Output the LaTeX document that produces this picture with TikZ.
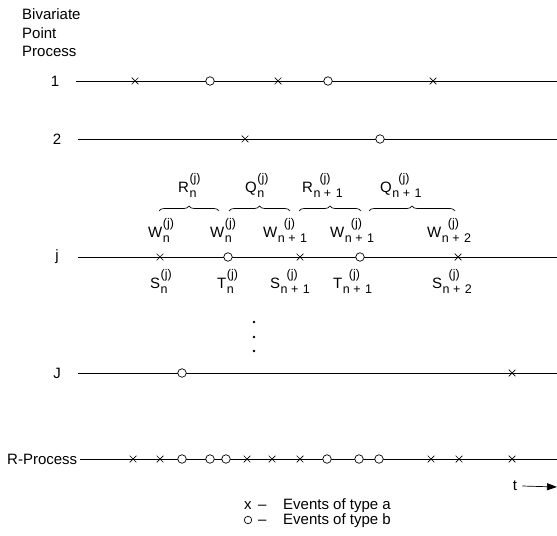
\documentclass[tikz,border=0pt]{standalone}
\usepackage{fontspec}
\setmainfont{Liberation Sans}
\usetikzlibrary{shapes.misc,decorations.pathreplacing,arrows.meta}
\newcommand\scr{\fontsize{12.5bp}{14bp}\selectfont}
% #1 letter, #2 subscript, #3 shift of the superscript
\newcommand\lbl[3]{#1\hspace{0.5bp}\rlap{\hspace{#3}\raisebox{10bp}{\scr(j)}}\raisebox{-5bp}{\scr #2}}
\newcommand\nplus[1]{n\hspace{3.5bp}+\hspace{4.5bp}#1}
\begin{document}
\begin{tikzpicture}[x=1bp,y=-1bp,
  font=\fontsize{15bp}{18bp}\selectfont,
  proc/.style={line width=0.7bp},
  evA/.style={cross out,draw,minimum size=6bp,inner sep=0pt,line width=0.7bp},
  evB/.style={circle,draw,fill=white,minimum size=8.5bp,inner sep=0pt,line width=0.7bp},
  lab/.style={anchor=base west,inner sep=0pt},
  plab/.style={inner sep=0pt},
  brc/.style={decorate,decoration={brace,amplitude=5bp},line width=0.7bp},
  dotm/.style={circle,fill,minimum size=2.6bp,inner sep=0pt}]
\useasboundingbox (0,0) rectangle (557,536);

% heading
\node[lab] (h1) at (22,20) {Bivariate};
\node[lab] (h2) at (22,38.5) {Point};
\node[lab] (h3) at (22,57) {Process};

% process labels and lines
\node[plab] (l1) at (55,81) {1};
\node[plab] (l2) at (57,139) {2};
\node[plab] (lj) at (57,257) {j};
\node[plab] (lJ) at (57,373) {J};
\node[lab] (lR) at (7,464) {R-Process};

\coordinate (s1) at (76,81);   \coordinate (e1) at (557,81);
\coordinate (s2) at (78,139);  \coordinate (e2) at (557,139);
\coordinate (sj) at (78,257);  \coordinate (ej) at (557,257);
\coordinate (sJ) at (78,373);  \coordinate (eJ) at (557,373);
\coordinate (sR) at (80,459);  \coordinate (eR) at (557,459);
\draw[proc] (s1) -- (e1);
\draw[proc] (s2) -- (e2);
\draw[proc] (sj) -- (ej);
\draw[proc] (sJ) -- (eJ);
\draw[proc] (sR) -- (eR);

% events
\foreach \x/\t [count=\i] in {135/evA,210/evB,278/evA,328/evB,433/evA}
  \node[\t] (m1-\i) at (\x,81) {};
\foreach \x/\t [count=\i] in {245/evA,380/evB}
  \node[\t] (m2-\i) at (\x,139) {};
\foreach \x/\t [count=\i] in {160/evA,228/evB,300/evA,360/evB,458/evA}
  \node[\t] (mj-\i) at (\x,257) {};
\foreach \x/\t [count=\i] in {182/evB,512/evA}
  \node[\t] (mJ-\i) at (\x,373) {};
\foreach \x/\t [count=\i] in {133/evA,160/evA,182/evB,210/evB,226/evB,247/evA,272/evA,300/evA,327/evB,359/evB,379/evB,431/evA,459/evA,512/evA}
  \node[\t] (mR-\i) at (\x,459) {};

% braces
\coordinate (b1a) at (159,211); \coordinate (b1b) at (219,211);
\coordinate (b2a) at (229,211); \coordinate (b2b) at (290,211);
\coordinate (b3a) at (299,211); \coordinate (b3b) at (361,211);
\coordinate (b4a) at (369,211); \coordinate (b4b) at (455,211);
\draw[brc] (b1a) -- (b1b);
\draw[brc] (b2a) -- (b2b);
\draw[brc] (b3a) -- (b3b);
\draw[brc] (b4a) -- (b4b);

\node[lab] (R1) at (178,193) {\lbl{R}{n}{0bp}};
\node[lab] (Q1) at (245,193) {\lbl{Q}{n}{0bp}};
\node[lab] (R2) at (302,193) {\lbl{R}{\nplus{1}}{6bp}};
\node[lab] (Q2) at (380,193) {\lbl{Q}{\nplus{1}}{6bp}};

\node[lab] (W1) at (148,237) {\lbl{W}{n}{0bp}};
\node[lab] (W2) at (210,237) {\lbl{W}{n}{0bp}};
\node[lab] (W3) at (263,237) {\lbl{W}{\nplus{1}}{6bp}};
\node[lab] (W4) at (330,237) {\lbl{W}{\nplus{1}}{6bp}};
\node[lab] (W5) at (427,237) {\lbl{W}{\nplus{2}}{6bp}};

\node[lab] (S1) at (150,288) {\lbl{S}{n}{0bp}};
\node[lab] (T1) at (217,288) {\lbl{T}{n}{0bp}};
\node[lab] (S2) at (270,288) {\lbl{S}{\nplus{1}}{6bp}};
\node[lab] (T2) at (333,288) {\lbl{T}{\nplus{1}}{6bp}};
\node[lab] (S3) at (432,288) {\lbl{S}{\nplus{2}}{6bp}};

% vertical dots
\node[dotm] (d1) at (254,322) {};
\node[dotm] (d2) at (254,337) {};
\node[dotm] (d3) at (254,351) {};

% time arrow
\node[plab] (t) at (515,486) {t};
\coordinate (tend) at (557,487);
\draw[proc,-{Triangle[length=10bp,width=7bp]}] (t.east) ++(5bp,0) coordinate (tstart) (tstart) -- (tend);

% legend
\node[lab] (ka) at (244,509) {x};
\node[lab] (da) at (258,509) {–};
\node[lab] (ta) at (283,509) {Events of type a};
\node[evB,minimum size=7.5bp] (kb) at (248,520) {};
\node[lab] (db) at (258,524.5) {–};
\node[lab] (tb) at (283,524.5) {Events of type b};
\end{tikzpicture}
\end{document}
